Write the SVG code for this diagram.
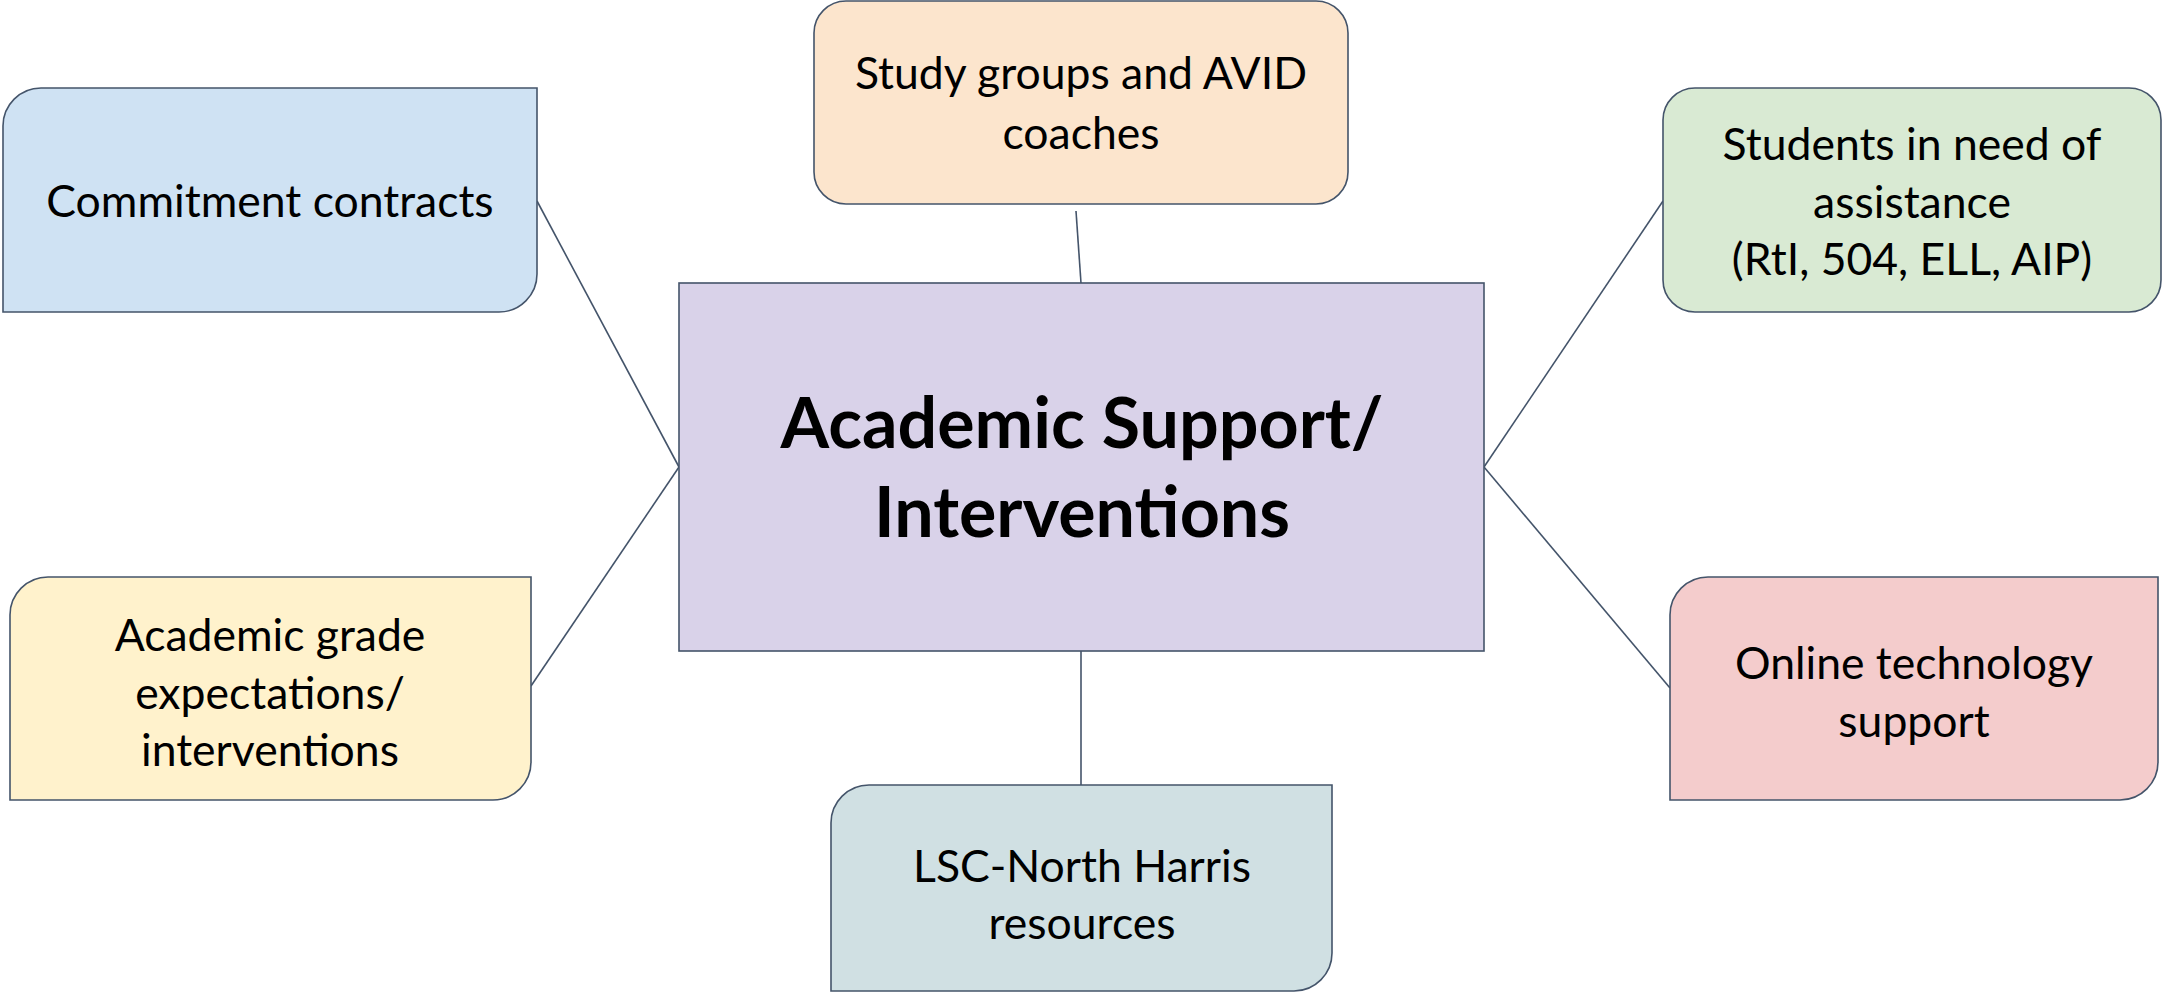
<svg xmlns="http://www.w3.org/2000/svg" width="2164" height="994" viewBox="0 0 2164 994">
<style>
.box{stroke:#44546A;stroke-width:1.6}
.lbl{font-family:Lato,"Liberation Sans",sans-serif;font-size:44.5px;fill:#000;text-anchor:middle}
.title{font-family:Lato,"Liberation Sans",sans-serif;font-size:70px;font-weight:bold;fill:#000;text-anchor:middle}
.conn line{stroke:#44546A;stroke-width:1.6}
</style>
<rect width="2164" height="994" fill="#fff"/>
<g class="conn" id="connectors">
<line x1="537" y1="201" x2="679" y2="467"/>
<line x1="531" y1="686" x2="679" y2="467"/>
<line x1="1076" y1="211" x2="1081" y2="283"/>
<line x1="1081" y1="651" x2="1081" y2="785"/>
<line x1="1484" y1="467" x2="1663" y2="201"/>
<line x1="1484" y1="467" x2="1670" y2="688"/>
</g>
<g id="center">
<rect class="box" x="679" y="283" width="805" height="368" fill="#D9D2E9"/>
<text class="title" x="1082" y="448">Academic Support/</text>
<text class="title" x="1082" y="537">Interventions</text>
</g>
<g id="commitment">
<path class="box" fill="#CFE2F3" d="M3,126 A38,38 0 0 1 41,88 L537,88 L537,274 A38,38 0 0 1 499,312 L3,312 Z"/>
<text class="lbl" x="270" y="217">Commitment contracts</text>
</g>
<g id="study">
<rect class="box" x="814" y="1" width="534" height="203" rx="32" ry="32" fill="#FCE5CD"/>
<text class="lbl" x="1081" y="89">Study groups and AVID</text>
<text class="lbl" x="1081" y="149">coaches</text>
</g>
<g id="students">
<rect class="box" x="1663" y="88" width="498" height="224" rx="32" ry="32" fill="#D9EAD3"/>
<text class="lbl" x="1912" y="160">Students in need of</text>
<text class="lbl" x="1912" y="218">assistance</text>
<text class="lbl" x="1912" y="275">(RtI, 504, ELL, AIP)</text>
</g>
<g id="grade">
<path class="box" fill="#FFF2CC" d="M10,615 A38,38 0 0 1 48,577 L531,577 L531,762 A38,38 0 0 1 493,800 L10,800 Z"/>
<text class="lbl" x="270" y="651">Academic grade</text>
<text class="lbl" x="270" y="709">expectations/</text>
<text class="lbl" x="270" y="766">interventions</text>
</g>
<g id="online">
<path class="box" fill="#F4CCCC" d="M1670,615 A38,38 0 0 1 1708,577 L2158,577 L2158,762 A38,38 0 0 1 2120,800 L1670,800 Z"/>
<text class="lbl" x="1914" y="679">Online technology</text>
<text class="lbl" x="1914" y="737">support</text>
</g>
<g id="lsc">
<path class="box" fill="#D0E0E3" d="M831,823 A38,38 0 0 1 869,785 L1332,785 L1332,953 A38,38 0 0 1 1294,991 L831,991 Z"/>
<text class="lbl" x="1082" y="882">LSC-North Harris</text>
<text class="lbl" x="1082" y="939">resources</text>
</g>
</svg>
